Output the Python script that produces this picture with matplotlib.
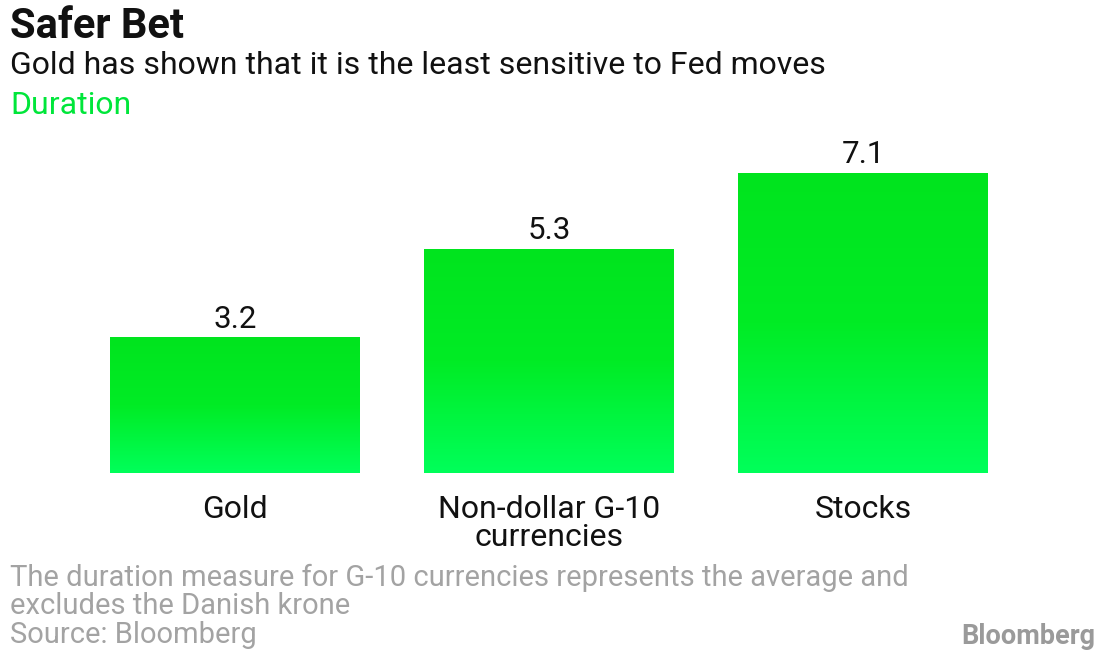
import numpy as np
import matplotlib.pyplot as plt
from matplotlib.colors import LinearSegmentedColormap

categories = ["Gold", "Non-dollar G-10\ncurrencies", "Stocks"]
durations = [3.2, 5.3, 7.1]
value_labels = ["3.2", "5.3", "7.1"]

plt.rcParams['font.family'] = ['Roboto', 'DejaVu Sans']

fig = plt.figure(figsize=(11, 6.57), dpi=100)
ax = fig.add_axes([110 / 1100, (657 - 473) / 657, 878 / 1100, 333 / 657])

width = 0.796
x = np.arange(len(categories))
bars = ax.bar(x, durations, width=width, color='none', edgecolor='none')

# vertical gradient per bar: darker green at top, lighter at bottom
cmap = LinearSegmentedColormap.from_list('g', ['#00ff5a', '#00ec25', '#00e41e'])
grad = np.linspace(0, 1, 256).reshape(-1, 1)
for b in bars:
    x0, y0 = b.get_x(), b.get_y()
    ax.imshow(grad, cmap=cmap, origin='lower', aspect='auto',
              extent=(x0, x0 + b.get_width(), y0, y0 + b.get_height()), zorder=2)

for xi, v, lab in zip(x, durations, value_labels):
    ax.annotate(lab, (xi, v), xytext=(0, 7.5), textcoords='offset points',
                ha='center', va='baseline', fontsize=22.5, color='#111111')

ax.set_xlim(-width / 2, len(categories) - 1 + width / 2)
ax.set_ylim(0, 7.89)
ax.set_xticks(x)
ax.set_xticklabels(categories, fontsize=23, color='#111111', linespacing=0.95)
ax.tick_params(axis='x', length=0, pad=16)
ax.set_yticks([])
for s in ax.spines.values():
    s.set_visible(False)

fig.text(10 / 1100, 1 - 27 / 657, "Safer Bet", fontsize=30, fontweight='bold', va='center', color='#111111')
fig.text(10 / 1100, 1 - 65 / 657, "Gold has shown that it is the least sensitive to Fed moves",
         fontsize=23, va='center', color='#111111')
fig.text(10 / 1100, 1 - 105 / 657, "Duration", fontsize=23, va='center', color='#00e63a')

foot = "#a3a3a3"
fig.text(10 / 1100, 1 - 578 / 657, "The duration measure for G-10 currencies represents the average and",
         fontsize=21, va='center', color=foot)
fig.text(10 / 1100, 1 - 606 / 657, "excludes the Danish krone", fontsize=21, va='center', color=foot)
fig.text(10 / 1100, 1 - 635 / 657, "Source: Bloomberg", fontsize=21, va='center', color=foot)
fig.text(1095 / 1100, 1 - 636 / 657, "Bloomberg", fontsize=19.5, fontweight='bold', ha='right',
         va='center', color='#9a9a9a')

fig.savefig("out.png", dpi=100)
